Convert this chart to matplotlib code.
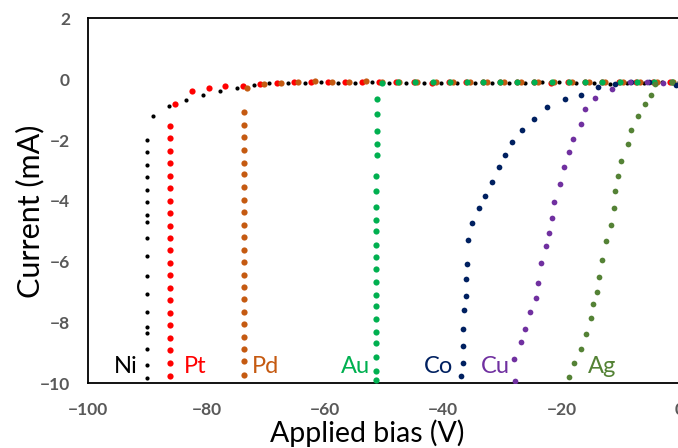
import matplotlib
matplotlib.use("Agg")
import matplotlib.pyplot as plt

plt.rcParams['font.family'] = ['Lato', 'DejaVu Sans']

# Ni (black)
ni_x = [-90.0, -90.0, -90.0, -90.0, -90.0, -90.0, -90.0, -90.0, -90.0, -90.0,
        -90.0, -90.0, -90.0, -90.0, -90.0, -90.0, -90.0, -90.0,
        -89.1, -86.3, -83.4, -80.5, -77.7, -74.8, -72.0, -69.5, -66.3, -63.4,
        -60.6, -57.7, -54.9, -52.0, -49.1, -46.2, -43.3, -40.4, -37.6, -34.6,
        -31.8, -28.9, -26.1, -23.3, -20.4, -17.5, -14.6, -11.8, -8.9, -6.0,
        -3.1, -0.2]
ni_y = [-9.85, -9.41, -8.88, -8.35, -8.15, -7.65, -7.07, -6.49, -5.83, -5.24,
        -4.70, -4.46, -4.05, -3.64, -3.22, -2.81, -2.40, -1.99,
        -1.22, -0.88, -0.69, -0.53, -0.40, -0.29, -0.18, -0.13, -0.12, -0.11,
        -0.10, -0.11, -0.11, -0.10, -0.11, -0.11, -0.12, -0.12, -0.11, -0.12,
        -0.12, -0.11, -0.11, -0.10, -0.10, -0.11, -0.11, -0.14, -0.12, -0.11,
        -0.10, -0.10]

# Pt (red)
pt_x = [-86.2, -86.2, -86.2, -86.2, -86.2, -86.2, -86.2, -86.2, -86.2, -86.2,
        -86.2, -86.2, -86.2, -86.2, -86.2, -86.2, -86.2, -86.2, -86.2, -86.2,
        -86.2,
        -85.3, -82.5, -79.6, -76.8, -73.8, -71.0, -68.1, -65.2, -62.3, -59.5,
        -56.6, -53.7, -50.9, -48.0, -45.0, -41.9, -39.0, -36.1, -33.2, -30.4,
        -27.5, -24.6, -21.8, -18.9, -16.0, -13.2, -10.3, -7.4, -4.5, -1.7]
pt_y = [-9.78, -9.35, -8.92, -8.52, -8.09, -7.69, -7.28, -6.86, -6.44, -6.05,
        -5.62, -5.22, -4.84, -4.41, -4.01, -3.59, -3.18, -2.76, -2.35, -1.93,
        -1.54,
        -0.80, -0.39, -0.29, -0.23, -0.21, -0.16, -0.12, -0.10, -0.08, -0.08,
        -0.09, -0.09, -0.10, -0.10, -0.10, -0.11, -0.10, -0.10, -0.10, -0.10,
        -0.10, -0.10, -0.11, -0.10, -0.10, -0.10, -0.10, -0.10, -0.09, -0.09]

# Pd (orange)
pd_x = [-73.6, -73.6, -73.6, -73.6, -73.6, -73.6, -73.6, -73.6, -73.6, -73.6,
        -73.6, -73.6, -73.6, -73.6, -73.6, -73.6, -73.6, -73.6, -73.6, -73.6,
        -73.6, -73.6,
        -73.1, -70.2, -67.4, -64.5, -61.7, -58.7, -55.9, -53.0, -50.3, -47.4,
        -44.4, -41.3, -38.4, -35.5, -32.6, -29.8, -26.9, -24.0, -21.2, -18.3,
        -15.4, -12.6, -9.7, -6.8, -3.9, -1.1]
pd_y = [-9.73, -9.29, -8.89, -8.49, -8.06, -7.65, -7.24, -6.83, -6.43, -6.03,
        -5.61, -5.20, -4.80, -4.38, -3.97, -3.55, -3.13, -2.75, -2.33, -1.91,
        -1.50, -1.09,
        -0.29, -0.16, -0.13, -0.10, -0.07, -0.08, -0.08, -0.06, -0.10, -0.10,
        -0.10, -0.10, -0.10, -0.10, -0.10, -0.10, -0.10, -0.10, -0.10, -0.10,
        -0.10, -0.10, -0.10, -0.10, -0.10, -0.10]

# Au (green)
au_x = [-51.4, -51.4, -51.4, -51.4, -51.4, -51.4, -51.4, -51.4, -51.4, -51.4,
        -51.4, -51.4, -51.4, -51.3, -51.3, -51.3, -51.3, -51.2, -51.2, -51.2,
        -51.2, -51.2,
        -50.3, -47.6, -44.7, -41.8, -38.9, -36.0, -33.2, -30.4, -27.5, -24.6,
        -21.7, -18.8, -16.0, -13.1, -10.1, -7.2, -4.4, -1.4]
au_y = [-9.90, -9.59, -9.13, -8.69, -8.31, -7.89, -7.48, -7.09, -6.67, -6.26,
        -5.84, -5.45, -5.01, -4.62, -4.21, -3.69, -3.19, -2.50, -2.12, -1.70,
        -1.14, -0.64,
        -0.11, -0.10, -0.10, -0.10, -0.10, -0.10, -0.10, -0.10, -0.10, -0.10,
        -0.10, -0.10, -0.10, -0.10, -0.10, -0.09, -0.09, -0.09]

# Co (navy)
co_x = [-37.0, -36.7, -36.6, -36.6, -36.5, -36.2, -36.1, -35.9, -35.8, -35.1,
        -34.0, -32.9, -31.7, -30.6, -29.6, -28.3, -26.7, -24.7, -22.4, -19.5,
        -16.7, -13.8, -11.0, -8.2, -5.2, -0.6]
co_y = [-9.77, -9.33, -8.77, -8.23, -7.61, -7.15, -6.57, -6.09, -5.29, -4.73,
        -4.23, -3.83, -3.37, -2.90, -2.49, -2.08, -1.67, -1.30, -0.90, -0.64,
        -0.51, -0.25, -0.17, -0.10, -0.08, -0.19]

# Cu (purple)
cu_x = [-27.8, -28.0, -26.9, -26.1, -25.3, -24.4, -24.0, -23.4, -22.7, -22.2,
        -21.6, -21.2, -20.3, -19.6, -18.7, -18.0, -16.8, -16.0, -14.4, -11.5,
        -8.5, -5.6, -2.8]
cu_y = [-9.93, -9.22, -8.64, -8.21, -7.65, -7.20, -6.72, -6.06, -5.50, -5.07,
        -4.57, -4.04, -3.46, -2.90, -2.40, -1.97, -1.48, -0.98, -0.61, -0.32,
        -0.10, -0.08, -0.13]

# Ag (olive green)
ag_x = [-18.7, -17.9, -16.8, -15.8, -15.1, -14.7, -14.1, -13.6, -13.1, -12.5,
        -11.7, -11.2, -11.0, -10.5, -9.9, -8.8, -8.3, -7.1, -5.9, -4.9,
        -4.2, -1.4]
ag_y = [-9.79, -9.33, -8.87, -8.38, -7.86, -7.41, -6.99, -6.51, -5.95, -5.33,
        -4.79, -4.23, -3.69, -3.20, -2.69, -2.14, -1.67, -1.20, -0.82, -0.53,
        -0.16, -0.08]

labels = ['Ni', 'Pt', 'Pd', 'Au', 'Co', 'Cu', 'Ag']
label_x = [-93.6, -81.9, -70.1, -54.9, -40.8, -31.2, -13.2]
label_y = [-9.45, -9.45, -9.45, -9.45, -9.45, -9.45, -9.45]
colors = ['#000000', '#FF0000', '#C55A11', '#00B050', '#002060', '#7030A0', '#548235']

fig = plt.figure(figsize=(6.78, 4.48), dpi=100)
ax = fig.add_axes([88 / 678, 65 / 448, 592 / 678, 364.5 / 448])

series = [(ni_x, ni_y, 9), (pt_x, pt_y, 20), (pd_x, pd_y, 20), (au_x, au_y, 20),
          (co_x, co_y, 17), (cu_x, cu_y, 17), (ag_x, ag_y, 17)]
for (xs, ys, s), c in zip(series, colors):
    ax.scatter(xs, ys, s=s, color=c, linewidths=0, zorder=3)

for t, x, y, c in zip(labels, label_x, label_y, colors):
    ax.text(x, y, t, color=c, fontsize=17, ha='center', va='center')

ax.set_xlim(-100, 0)
ax.set_ylim(-10, 2)
ax.set_xticks([-100, -80, -60, -40, -20, 0])
ax.set_yticks([-10, -8, -6, -4, -2, 0, 2])
ax.tick_params(length=0, labelsize=12.5, labelcolor='#595959', pad=13)
ax.tick_params(axis='x', pad=14)
for lab in ax.get_xticklabels() + ax.get_yticklabels():
    lab.set_fontweight('bold')
for sp in ax.spines.values():
    sp.set_linewidth(1.3)

fig.text(366.7 / 678, 1 - 433 / 448, 'Applied bias (V)', fontsize=20.5,
         ha='center', va='center')
fig.text(30 / 678, 1 - 211.5 / 448, 'Current (mA)', fontsize=22,
         ha='center', va='center', rotation=90)

fig.savefig('out.png', dpi=100)
